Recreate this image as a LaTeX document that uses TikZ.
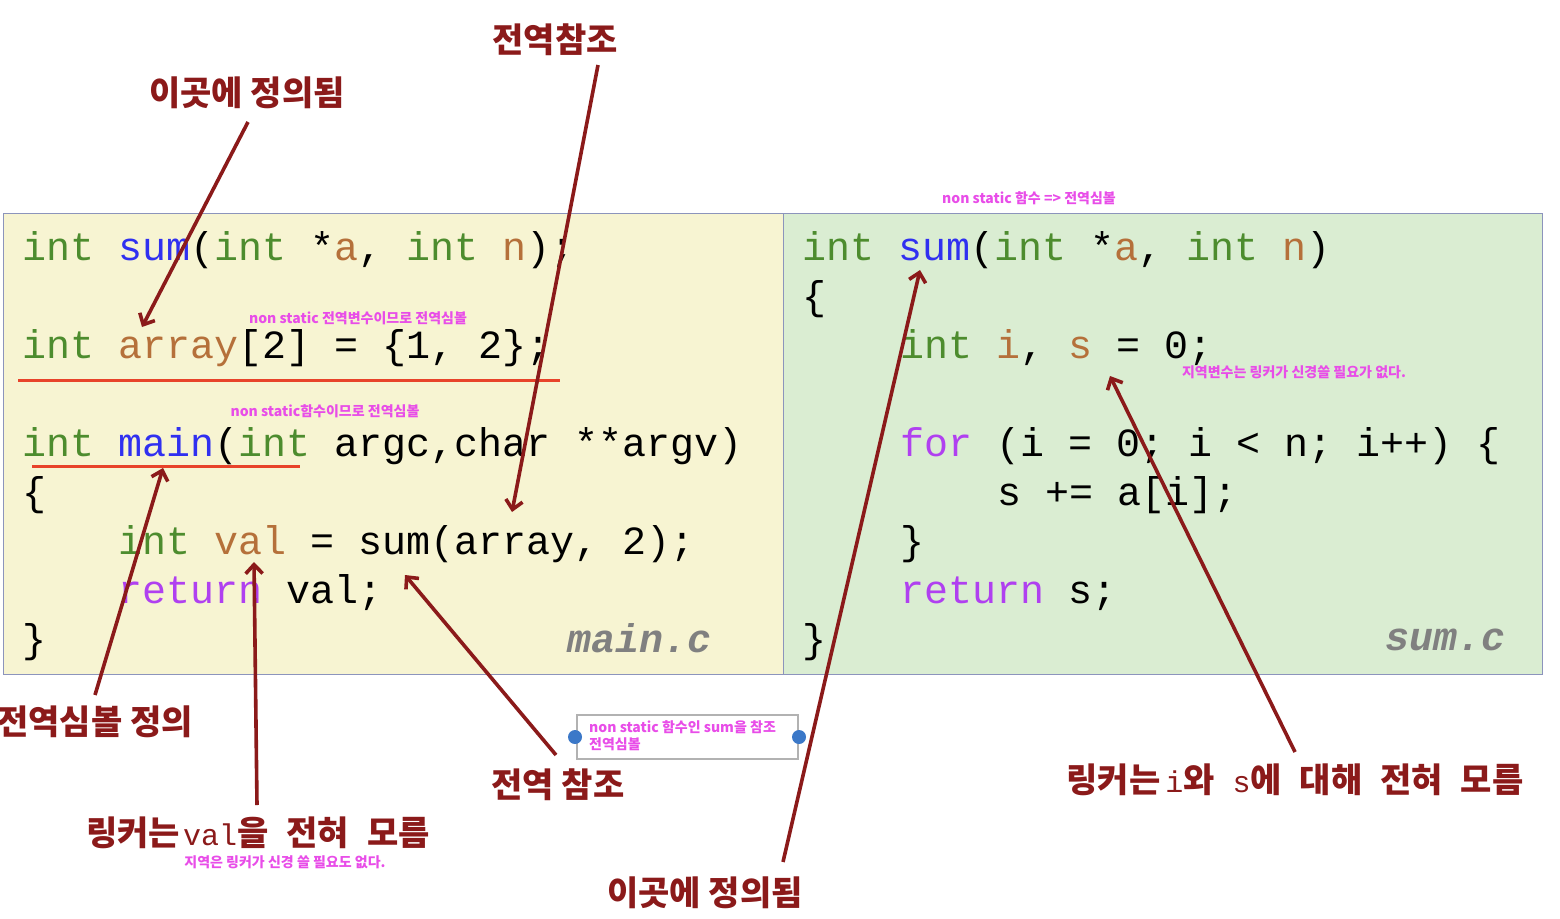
\documentclass[tikz,border=0pt]{standalone}
\usepackage{fontspec}
\setmonofont{Liberation Mono}
\newfontfamily\kr{Noto Sans CJK KR}
\usetikzlibrary{arrows.meta}
\definecolor{dred}{HTML}{8B1A1A}
\definecolor{mag}{HTML}{E84DE8}
\definecolor{kgreen}{HTML}{4D8C2E}
\definecolor{kblue}{HTML}{3030F0}
\definecolor{korange}{HTML}{B5703A}
\definecolor{kpurple}{HTML}{B040F0}
\definecolor{lfill}{HTML}{F7F4D2}
\definecolor{rfill}{HTML}{DAEDD2}
\definecolor{pborder}{HTML}{8C94BC}
\definecolor{uline}{HTML}{E8432A}
\definecolor{dotblue}{HTML}{3B78C8}
\newcommand{\kw}[1]{\textcolor{kgreen}{#1}}
\newcommand{\fn}[1]{\textcolor{kblue}{#1}}
\newcommand{\vr}[1]{\textcolor{korange}{#1}}
\newcommand{\ctl}[1]{\textcolor{kpurple}{#1}}
\newcommand{\tmono}[1]{{\fontsize{30}{30}\selectfont\ttfamily\mdseries #1}}
\begin{document}
\begin{tikzpicture}[x=1pt,y=-1pt,
  code/.style={anchor=base west,inner sep=0pt,font=\fontsize{40}{40}\selectfont\ttfamily},
  title/.style={text=dred,inner sep=0pt,font=\fontsize{34}{34}\selectfont\kr\bfseries},
  note/.style={text=mag,inner sep=0pt,font=\fontsize{14}{17}\selectfont\kr\bfseries},
  fname/.style={anchor=base west,inner sep=0pt,text=gray,font=\fontsize{40}{40}\selectfont\ttfamily\bfseries\itshape},
  arr/.style={draw=dred,line width=3.6pt,-{Straight Barb[length=9pt,width=17pt,line width=3.6pt]}},
  uln/.style={draw=uline,line width=3pt},
  panel/.style={draw=pborder,line width=1pt}
]
\useasboundingbox (0,0) rectangle (1560,918);
% panels
\path[panel,fill=lfill] (3,213) rectangle (783,674);
\path[panel,fill=rfill] (783,213) rectangle (1542,674);
% left code
\node[code] (l1) at (22,260) {\kw{int} \fn{sum}(\kw{int} *\vr{a}, \kw{int} \vr{n});};
\node[code] (l2) at (22,358) {\kw{int} \vr{array}[2] = \{1, 2\};};
\node[code] (l3) at (22,456) {\kw{int} \fn{main}(\kw{int} argc,char **argv)};
\node[code] (l4) at (22,505) {\{};
\node[code] (l5) at (118,554) {\kw{int} \vr{val} = sum(array, 2);};
\node[code] (l6) at (118,603) {\ctl{return} val;};
\node[code] (l7) at (22,652) {\}};
\node[fname] (mainc) at (567,652) {main.c};
% right code
\node[code] (r1) at (802,260) {\kw{int} \fn{sum}(\kw{int} *\vr{a}, \kw{int} \vr{n})};
\node[code] (r2) at (802,309) {\{};
\node[code] (r3) at (900,358) {\kw{int} \vr{i}, \vr{s} = 0;};
\node[code] (r4) at (900,456) {\ctl{for} (i = 0; i < n; i++) \{};
\node[code] (r5) at (997,505) {s += a[i];};
\node[code] (r6) at (900,554) {\}};
\node[code] (r7) at (900,603) {\ctl{return} s;};
\node[code] (r8) at (802,652) {\}};
\node[fname] (sumc) at (1385,650) {sum.c};
% underlines
\coordinate (u1a) at (18,380); \coordinate (u1b) at (560,380);
\coordinate (u2a) at (32,466); \coordinate (u2b) at (300,466);
\draw[uln] (u1a) -- (u1b);
\draw[uln] (u2a) -- (u2b);
% notes
\node[note] (n1) at (358,318) {non static 전역변수이므로 전역심볼};
\node[note] (n2) at (325,411) {non static함수이므로 전역심볼};
\node[note] (n3) at (1029,198) {non static 함수 => 전역심볼};
\node[note] (n4) at (1294,372) {지역변수는 링커가 신경쓸 필요가 없다.};
\node[note] (n5) at (285,862) {지역은 링커가 신경 쓸 필요도 없다.};
% box
\draw[draw=black!30,line width=1.5pt] (577,715) rectangle (798,759);
\node[note,anchor=west,align=left] (n6) at (589,736) {non static 함수인 sum을 참조\\전역심볼};
\node[circle,fill=dotblue,minimum size=14pt,inner sep=0pt] (d1) at (575,737) {};
\node[circle,fill=dotblue,minimum size=14pt,inner sep=0pt] (d2) at (799,737) {};
% titles
\node[title] (t1) at (247,93) {이곳에 정의됨};
\node[title] (t2) at (555,40) {전역참조};
\node[title] (t3) at (95,722) {전역심볼 정의};
\node[title] (t4) at (258,833) {링커는\hspace{3pt}\tmono{val}을\hspace{18pt}전혀\hspace{18pt}모름};
\node[title] (t5) at (558,785) {전역 참조};
\node[title] (t6) at (705,893) {이곳에 정의됨};
\node[title] (t7) at (1295,780) {링커는\hspace{5pt}\tmono{i}와\hspace{18pt}\tmono{s}에\hspace{18pt}대해\hspace{18pt}전혀\hspace{18pt}모름};
% arrow coordinates
\coordinate (a1s) at (248,122); \coordinate (a1e) at (142,327);
\coordinate (a2s) at (598,65);  \coordinate (a2e) at (512,512);
\coordinate (a3s) at (95,695);  \coordinate (a3e) at (163,468);
\coordinate (a4s) at (257,805); \coordinate (a4e) at (254,562);
\coordinate (a5s) at (556,755); \coordinate (a5e) at (405,575);
\coordinate (a6s) at (783,862); \coordinate (a6e) at (920,270);
\coordinate (a7s) at (1295,752); \coordinate (a7e) at (1110,376);
\draw[arr] (a1s) -- (a1e);
\draw[arr] (a2s) -- (a2e);
\draw[arr] (a3s) -- (a3e);
\draw[arr] (a4s) -- (a4e);
\draw[arr] (a5s) -- (a5e);
\draw[arr] (a6s) -- (a6e);
\draw[arr] (a7s) -- (a7e);
\end{tikzpicture}
\end{document}
